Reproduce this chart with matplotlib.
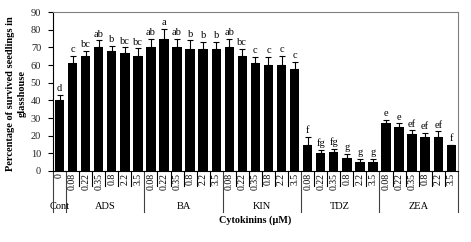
import numpy as np
import matplotlib
matplotlib.use('Agg')
import matplotlib.pyplot as plt

plt.rcParams['font.family'] = ['Liberation Serif', 'DejaVu Serif']

# data
groups = ['Cont', 'ADS', 'BA', 'KIN', 'TDZ', 'ZEA']
group_sizes = [1, 6, 6, 6, 6, 6]
doses = ['0'] + ['0.08', '0.22', '0.35', '0.8', '2.2', '3.5'] * 5
values = [40,
          61, 65, 70, 68, 67, 65,
          70, 75, 70, 69, 69, 69,
          70, 65, 61, 60, 60, 58,
          15, 10, 10.5, 7.5, 5, 5,
          27, 25, 21, 19, 19, 15]
errors = [3,
          4, 3, 4, 3, 3, 4.5,
          5, 5.5, 5, 5, 4, 4,
          5, 4, 3.5, 4.5, 5, 4,
          4.5, 2, 2, 2, 2, 2,
          2, 2, 2, 2.5, 3.5, 0]
letters = ['d',
           'c', 'bc', 'ab', 'b', 'bc', 'bc',
           'ab', 'a', 'ab', 'b', 'b', 'b',
           'ab', 'bc', 'c', 'c', 'c', 'c',
           'f', 'fg', 'fg', 'g', 'g', 'g',
           'e', 'e', 'ef', 'ef', 'ef', 'f']

fig = plt.figure(figsize=(4.71, 2.42), dpi=100)
ax = fig.add_axes([0.1125, 0.2934, 0.8595, 0.6566])

x = np.arange(len(values))
ax.bar(x, values, width=0.72, color='black')
ax.errorbar(x, values, yerr=[np.zeros(len(errors)), errors], fmt='none',
            ecolor='black', elinewidth=0.8, capsize=2.2, capthick=0.8)
for xi, v, e, t in zip(x, values, errors, letters):
    ax.text(xi, v + e + 1.0, t, ha='center', va='bottom', fontsize=7.5)

ax.set_xlim(-0.5, len(values) - 0.5)
ax.set_ylim(0, 90)
ax.set_yticks(range(0, 91, 10))
ax.tick_params(axis='y', labelsize=7.5, length=3.5, width=0.8, direction='out', pad=5,
               labelcolor='#222222')
ax.set_xticks([])
for s in ['top', 'right']:
    ax.spines[s].set_color('#808080')
    ax.spines[s].set_linewidth(0.8)
for s in ['left', 'bottom']:
    ax.spines[s].set_linewidth(0.8)

ax.set_ylabel('Percentage of survived seedlings in\nglasshouse', fontsize=7.5,
              fontweight='bold', linespacing=1.3)
ax.yaxis.set_label_coords(-0.066, 0.49)

# dose labels under each bar, rotated
trans = ax.get_xaxis_transform()
for xi, d in zip(x, doses):
    ax.text(xi, -0.012, d, rotation=90, ha='center', va='top', fontsize=7,
            transform=trans, clip_on=False)

# short separators between bars, long ones between groups
bounds = np.cumsum([0] + group_sizes) - 0.5
for b in np.arange(-0.5, len(values), 1.0):
    long_line = np.any(np.isclose(bounds, b))
    ax.plot([b, b], [0, -0.26 if long_line else -0.095],
            color='#404040' if long_line else 'black',
            lw=0.8, transform=trans, clip_on=False)

for i, g in enumerate(groups):
    c = (bounds[i] + bounds[i + 1]) / 2
    ax.text(c, -0.225, g, ha='center', va='center', fontsize=7.5,
            transform=trans, clip_on=False)

ax.text(0.5, -0.31, 'Cytokinins (\u00b5M)', ha='center', va='center', fontsize=7.3,
        fontweight='bold', transform=ax.transAxes)

fig.savefig('out.png', dpi=100)
